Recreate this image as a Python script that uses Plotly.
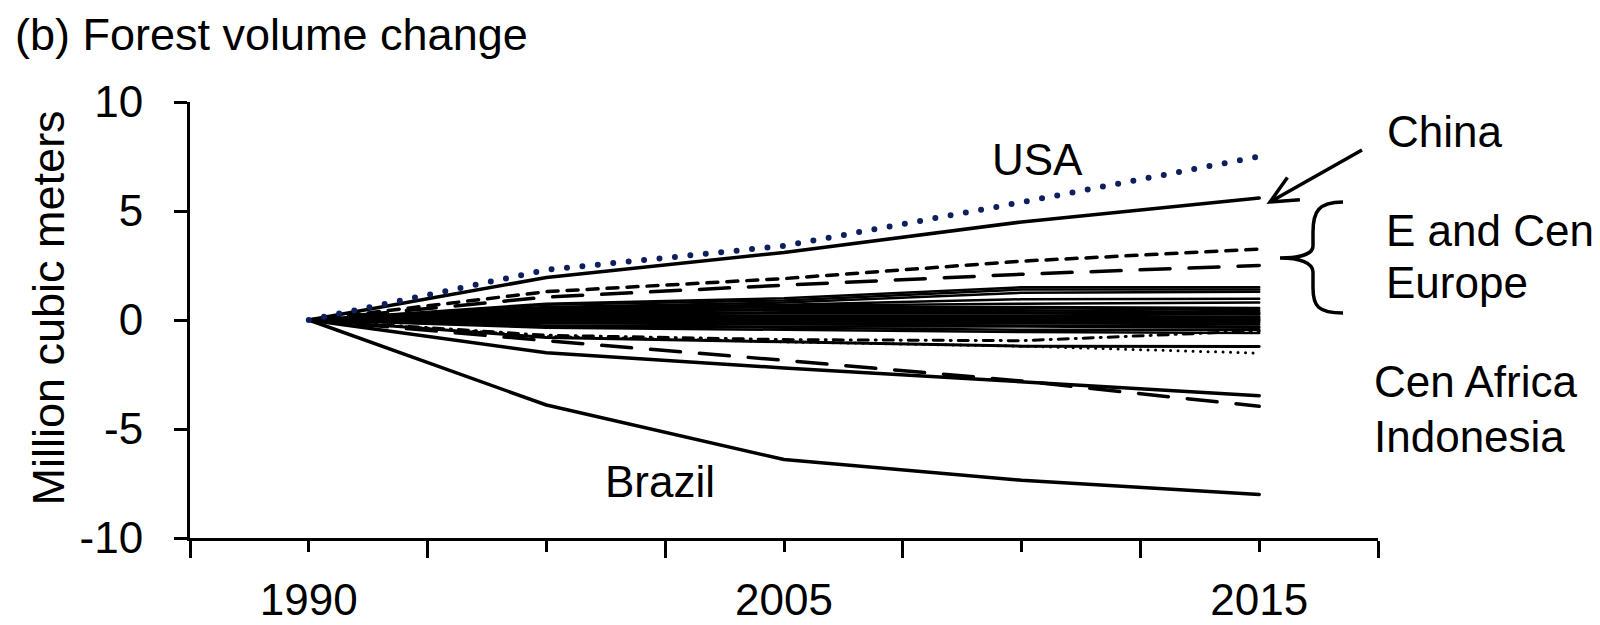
import plotly.graph_objects as go

# ---- data: change in forest growing stock since 1990 (million m3) ----
years = ["1990", "2000", "2005", "2010", "2015"]

usa = [0, 2.3, 3.4, 5.4, 7.5]
china = [0, 1.95, 3.1, 4.5, 5.6]
europe_a = [0, 1.3, 1.9, 2.7, 3.25]
europe_b = [0, 1.05, 1.6, 2.1, 2.5]
cen_africa = [0, -1.5, -2.2, -2.85, -3.47]
indonesia = [0, -0.95, -1.85, -2.8, -3.96]
brazil = [0, -3.9, -6.4, -7.35, -8.0]
low_dotted = [0, -0.75, -1.0, -1.2, -1.52]
low_dashdot = [0, -0.7, -0.9, -0.95, -0.5]
low_solid = [0, -0.8, -1.0, -1.2, -1.22]

# remaining regions, all close to zero
r01 = [0, 0.75, 1.0, 1.5, 1.5]
r02 = [0, 0.7, 0.9, 1.4, 1.4]
r03 = [0, 0.6, 0.8, 1.25, 1.3]
r04 = [0, 0.55, 0.7, 0.95, 0.97]
r05 = [0, 0.5, 0.65, 0.75, 0.8]
r06 = [0, 0.45, 0.6, 0.6, 0.55]
r07 = [0, 0.4, 0.5, 0.55, 0.45]
r08 = [0, 0.35, 0.45, 0.45, 0.35]
r09 = [0, 0.3, 0.35, 0.35, 0.3]
r10 = [0, 0.25, 0.3, 0.3, 0.25]
r11 = [0, 0.2, 0.2, 0.2, 0.15]
r12 = [0, 0.15, 0.15, 0.15, 0.1]
r13 = [0, 0.1, 0.1, 0.05, 0.05]
r14 = [0, 0.05, 0.0, 0.0, 0.0]
r15 = [0, 0.0, -0.05, -0.05, -0.05]
r16 = [0, -0.05, -0.1, -0.1, -0.1]
r17 = [0, -0.1, -0.15, -0.15, -0.2]
r18 = [0, -0.15, -0.2, -0.25, -0.3]
r19 = [0, -0.25, -0.3, -0.3, -0.35]
r20 = [0, -0.3, -0.35, -0.45, -0.45]
r21 = [0, -0.35, -0.45, -0.55, -0.6]
other_regions = [r01, r02, r03, r04, r05, r06, r07, r08, r09, r10, r11,
                 r12, r13, r14, r15, r16, r17, r18, r19, r20, r21]

y_ticks = [-10, -5, 0, 5, 10]
y_labels = ["-10", "-5", "0", "5", "10"]
x_labels = ["1990", "", "2005", "", "2015"]

# ---- page geometry ----
W, H = 1600, 625
PL, PR, PT, PB = 190, 1378, 102, 538
FONT = "Liberation Sans, Arial, sans-serif"
BLACK = "#000000"
NAVY = "#0d1f5c"


def fx(px):
    return (px - PL) / (PR - PL)


def fy(py):
    return (PB - py) / (PB - PT)


def pt(px, py):
    return f"{fx(px):.5f},{fy(py):.5f}"


xpos = list(range(len(years)))

fig = go.Figure()

for series in other_regions:
    fig.add_trace(go.Scatter(x=xpos, y=series, mode="lines",
                             line=dict(color=BLACK, width=2.5),
                             hoverinfo="skip", showlegend=False))

styled = [
    (low_solid, BLACK, 3, "solid"),
    (low_dashdot, BLACK, 3, "10px,7px,1px,7px"),
    (low_dotted, BLACK, 3, "0px,7.5px"),
    (cen_africa, BLACK, 3.5, "solid"),
    (indonesia, BLACK, 3.5, "30px,19px"),
    (europe_b, BLACK, 3.5, "30px,19px"),
    (europe_a, BLACK, 3.5, "11px,9px"),
    (china, BLACK, 3.5, "solid"),
    (brazil, BLACK, 3.5, "solid"),
    (usa, NAVY, 6, "0px,15.5px"),
]
for series, color, width, dash in styled:
    fig.add_trace(go.Scatter(x=xpos, y=series, mode="lines",
                             line=dict(color=color, width=width, dash=dash),
                             hoverinfo="skip", showlegend=False))

# curly brace grouping the European lines
brace_pts = [(1343, 202), (1318, 202), (1313, 212), (1313, 232),
             (1313, 246), (1313, 254), (1300, 258), (1280, 258),
             (1300, 258), (1313, 263), (1313, 272),
             (1313, 288), (1313, 306), (1318, 313), (1343, 313)]
P = [pt(a, b) for a, b in brace_pts]
brace = (f"M {P[0]} C {P[1]} {P[2]} {P[3]} L {P[4]} C {P[5]} {P[6]} {P[7]} "
         f"C {P[8]} {P[9]} {P[10]} L {P[11]} C {P[12]} {P[13]} {P[14]}")
fig.add_shape(type="path", path=brace, xref="paper", yref="paper",
              line=dict(color=BLACK, width=3.5))

# open arrow pointing at the China line
arrow = (f"M {pt(1362, 150)} L {pt(1270, 202)} "
         f"M {pt(1287.4, 177.6)} L {pt(1270, 202)} L {pt(1299.9, 199.7)}")
fig.add_shape(type="path", path=arrow, xref="paper", yref="paper",
              line=dict(color=BLACK, width=3.5))

lab = dict(family=FONT, size=44, color=BLACK)
ann = [
    dict(text="USA", x=3.065, y=7.34, xref="x", yref="y", showarrow=False,
         font=lab),
    dict(text="Brazil", x=1.478, y=-7.39, xref="x", yref="y", showarrow=False,
         font=lab),
    dict(text="China", x=fx(1385), y=fy(131.5), xref="paper", yref="paper",
         xanchor="left", yanchor="middle", showarrow=False, font=lab),
    dict(text="E and Cen", x=fx(1384), y=fy(230), xref="paper",
         yref="paper", xanchor="left", yanchor="middle", showarrow=False,
         font=lab),
    dict(text="Europe", x=fx(1384), y=fy(282), xref="paper",
         yref="paper", xanchor="left", yanchor="middle", showarrow=False,
         font=lab),
    dict(text="Cen Africa", x=fx(1372), y=fy(381), xref="paper",
         yref="paper", xanchor="left", yanchor="middle", showarrow=False,
         font=lab),
    dict(text="Indonesia", x=fx(1372), y=fy(436), xref="paper",
         yref="paper", xanchor="left", yanchor="middle", showarrow=False,
         font=lab),
    dict(text="(b) Forest volume change", x=fx(13), y=fy(35), xref="paper",
         yref="paper", xanchor="left", yanchor="middle", showarrow=False,
         font=dict(family=FONT, size=45, color=BLACK)),
    dict(text="Million cubic meters", x=fx(47.5), y=fy(308), xref="paper",
         yref="paper", xanchor="center", yanchor="middle", textangle=-90,
         showarrow=False, font=dict(family=FONT, size=45, color=BLACK)),
]
for a in ann:
    fig.add_annotation(**a)

fig.update_layout(
    template="none",
    width=W, height=H,
    margin=dict(l=PL, r=W - PR, t=PT, b=H - PB, pad=0),
    paper_bgcolor="white", plot_bgcolor="white",
    font=dict(family=FONT, color=BLACK),
    xaxis=dict(range=[-0.5, 4.5], tickmode="array", tickvals=xpos,
               ticktext=x_labels, ticks="outside", ticklen=11, tickwidth=3,
               tickcolor=BLACK, showline=True, linewidth=3, linecolor=BLACK,
               showgrid=False, zeroline=False, automargin=False,
               ticklabelstandoff=10,
               tickfont=dict(family=FONT, size=44, color=BLACK),
               minor=dict(ticks="outside", tick0=-0.5, dtick=1, ticklen=17,
                          tickwidth=3, tickcolor=BLACK, showgrid=False)),
    yaxis=dict(range=[-10, 10], tickmode="array", tickvals=y_ticks,
               ticktext=y_labels,
               ticks="outside", ticklen=13, tickwidth=3, tickcolor=BLACK,
               showline=True, linewidth=3, linecolor=BLACK, showgrid=False,
               zeroline=False, automargin=False, ticklabelstandoff=22,
               tickfont=dict(family=FONT, size=44, color=BLACK)),
)

round_caps = ("var s=document.createElement('style');"
              "s.textContent='.scatterlayer .js-line{stroke-linecap:round;"
              "stroke-linejoin:round;}';document.head.appendChild(s);")
fig.write_html("out.html", post_script=round_caps)
